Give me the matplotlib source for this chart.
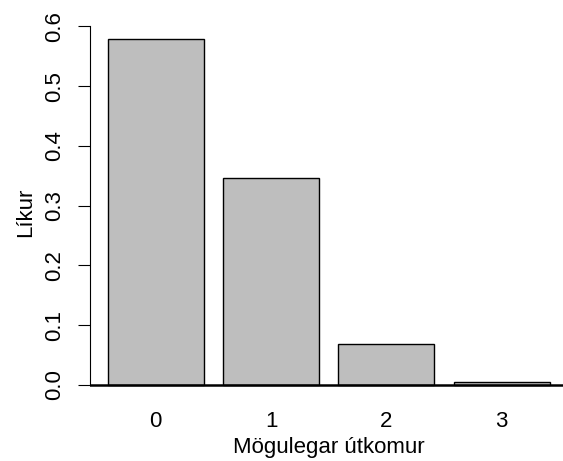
import numpy as np
import matplotlib.pyplot as plt

plt.rcParams['font.family'] = ['Liberation Sans', 'DejaVu Sans']

utkomur = ['0', '1', '2', '3']
likur = [0.579, 0.347, 0.069, 0.005]

W, H = 563, 461
fig = plt.figure(figsize=(W / 100, H / 100), dpi=100)
# plot region in pixels (R style, right edge runs past the figure)
left, right, top, bottom = 90, 567.4, 25, 398.8
ax = fig.add_axes([left / W, (H - bottom) / H, (right - left) / W, (bottom - top) / H])

x = 0.7 + 1.2 * np.arange(len(likur))
ax.bar(x, likur, width=1.0, color='#bebebe', edgecolor='black', linewidth=1.0)
ax.axhline(0, color='black', linewidth=1.8)

ymax = max(likur)
ax.set_xlim(0.2 - 0.04 * 4.6, 4.8 + 0.04 * 4.6)
ax.set_ylim(-0.04 * ymax, ymax * 1.04)

for s in ['top', 'right', 'bottom']:
    ax.spines[s].set_visible(False)
ax.spines['left'].set_bounds(0, 0.6)
ax.spines['left'].set_linewidth(0.8)

fs = 16
ax.set_yticks(np.arange(0, 0.61, 0.1))
ax.set_yticklabels(['%.1f' % v for v in np.arange(0, 0.61, 0.1)],
                   rotation=90, va='center', fontsize=fs)
ax.tick_params(axis='y', length=8.6, width=0.8, pad=9)
ax.set_xticks(x)
ax.set_xticklabels(utkomur, fontsize=fs)
ax.tick_params(axis='x', length=0, pad=9)

ax.set_xlabel('Mögulegar útkomur', fontsize=fs, labelpad=3.5)
ax.set_ylabel('Líkur', fontsize=fs, labelpad=6)

fig.savefig('out.png', dpi=100)
